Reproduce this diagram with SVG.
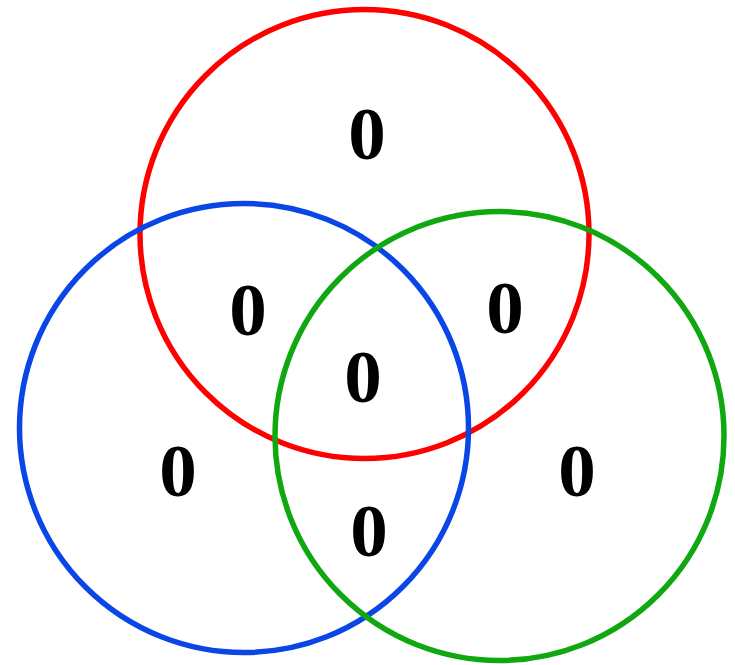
<svg xmlns="http://www.w3.org/2000/svg" width="735" height="665" viewBox="0 0 735 665">
  <style>
    .set { fill: none; stroke-width: 5.5; }
    .count { font-family: "Liberation Serif", "Times New Roman", serif; font-weight: bold; font-size: 75px; text-anchor: middle; fill: #000; }
  </style>
  <rect width="735" height="665" fill="#fff"/>
  <g id="set-red"><circle class="set" cx="364.5" cy="234" r="224.5" stroke="#ff0000"/></g>
  <g id="set-blue"><circle class="set" cx="244" cy="428" r="224.5" stroke="#0a46e6"/></g>
  <g id="set-green"><circle class="set" cx="499.5" cy="436" r="224.5" stroke="#10a810"/></g>
  <g id="counts">
    <text class="count" x="367" y="159">0</text>
    <text class="count" x="248" y="335">0</text>
    <text class="count" x="505" y="333">0</text>
    <text class="count" x="363" y="402">0</text>
    <text class="count" x="178" y="496">0</text>
    <text class="count" x="577" y="496">0</text>
    <text class="count" x="369" y="556">0</text>
  </g>
</svg>
